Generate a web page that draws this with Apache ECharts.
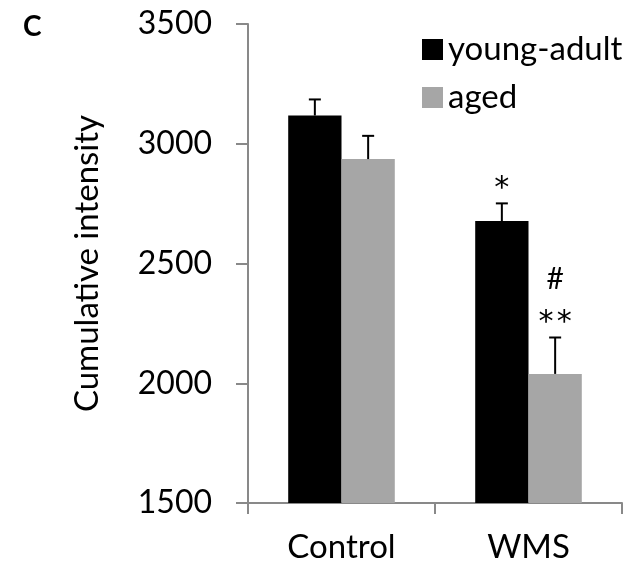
<!DOCTYPE html>
<html><head><meta charset="utf-8">
<script src="https://cdn.jsdelivr.net/npm/echarts@6/dist/echarts.min.js"></script>
<style>html,body{margin:0;padding:0;background:#fff}#c{width:643px;height:570px}</style>
</head><body><div id="c"></div>
<script>
const categories = ['Control', 'WMS'];
const seriesNames = ['young-adult', 'aged'];
const youngAdult = [3118, 2677];
const aged = [2936, 2039];
const youngAdultErr = [67, 74];
const agedErr = [97, 152];
const youngAdultMarks = ['', '*'];
const agedMarks = ['', '**'];
const agedMarksUpper = ['', '#'];
const yMin = 1500, yMax = 3500, yStep = 500;

const FONT = 'Lato';
const BAR_CAT_GAP = 0.43;
const colors = ['#000000', '#a6a6a6'];

function errorSeries(name, values, errs, marks, marksUpper, idx) {
  return {
    type: 'custom',
    name: name + ' error',
    z: 5,
    silent: true,
    data: values.map((v, i) => [i, v, v + errs[i]]),
    renderItem(params, api) {
      const ci = api.value(0);
      const base = api.coord([ci, api.value(1)]);
      const top = api.coord([ci, api.value(2)]);
      const cw = api.size([1, 0])[0];
      const bw = cw * (1 - BAR_CAT_GAP) / 2;
      const x = base[0] + (idx === 0 ? -bw / 2 : bw / 2);
      const st = { stroke: '#000', lineWidth: 2 };
      const children = [
        { type: 'line', shape: { x1: x, y1: base[1], x2: x, y2: top[1] }, style: st },
        { type: 'line', shape: { x1: x - 6, y1: top[1], x2: x + 6, y2: top[1] }, style: st }
      ];
      const m = marks[params.dataIndex];
      if (m) children.push({ type: 'text', x: x, y: top[1] - 14, style: { text: m, fill: '#000', font: '30px "DejaVu Sans Mono"', align: 'center', verticalAlign: 'middle' } });
      const mu = marksUpper[params.dataIndex];
      if (mu) children.push({ type: 'text', x: x, y: top[1] - 58, style: { text: mu, fill: '#000', font: '30px ' + FONT, align: 'center', verticalAlign: 'middle' } });
      return { type: 'group', children };
    }
  };
}

const chart = echarts.init(document.getElementById('c'), null, { renderer: 'canvas' });
chart.setOption({
  backgroundColor: '#fff',
  animation: false,
  title: { text: 'C', left: 18, top: 8, textStyle: { fontFamily: FONT, fontWeight: 'bold', fontSize: 28, color: '#000' } },
  legend: {
    orient: 'vertical', left: 417, top: 28, itemWidth: 21, itemHeight: 21, itemGap: 15,
    icon: 'rect', selectedMode: false, data: seriesNames,
    textStyle: { fontFamily: FONT, fontSize: 33, color: '#000' }
  },
  grid: { left: 248, right: 21, top: 24, bottom: 67, containLabel: false },
  xAxis: {
    type: 'category', data: categories,
    axisLine: { show: true, lineStyle: { color: '#898989', width: 2 } },
    axisTick: { show: true, length: 11, interval: 0, lineStyle: { color: '#898989', width: 2 } },
    axisLabel: { fontFamily: FONT, fontSize: 33, color: '#000', margin: 28, interval: 0 },
    splitLine: { show: false }
  },
  yAxis: {
    type: 'value', min: yMin, max: yMax, interval: yStep,
    name: 'Cumulative intensity', nameLocation: 'middle', nameGap: 144, nameRotate: 90,
    nameMoveOverlap: false,
    nameTextStyle: { fontFamily: FONT, fontSize: 33, color: '#000' },
    axisLine: { show: true, lineStyle: { color: '#898989', width: 2 } },
    axisTick: { show: true, length: 12, lineStyle: { color: '#898989', width: 2 } },
    axisLabel: { fontFamily: FONT, fontSize: 32, color: '#000', margin: 36, formatter: v => String(v) },
    splitLine: { show: false }
  },
  series: [
    { type: 'bar', name: seriesNames[0], data: youngAdult, barGap: '0%', barCategoryGap: (BAR_CAT_GAP * 100) + '%', itemStyle: { color: colors[0] } },
    { type: 'bar', name: seriesNames[1], data: aged, barGap: '0%', barCategoryGap: (BAR_CAT_GAP * 100) + '%', itemStyle: { color: colors[1] } },
    errorSeries(seriesNames[0], youngAdult, youngAdultErr, youngAdultMarks, ['', ''], 0),
    errorSeries(seriesNames[1], aged, agedErr, agedMarks, agedMarksUpper, 1)
  ]
});
</script></body></html>
